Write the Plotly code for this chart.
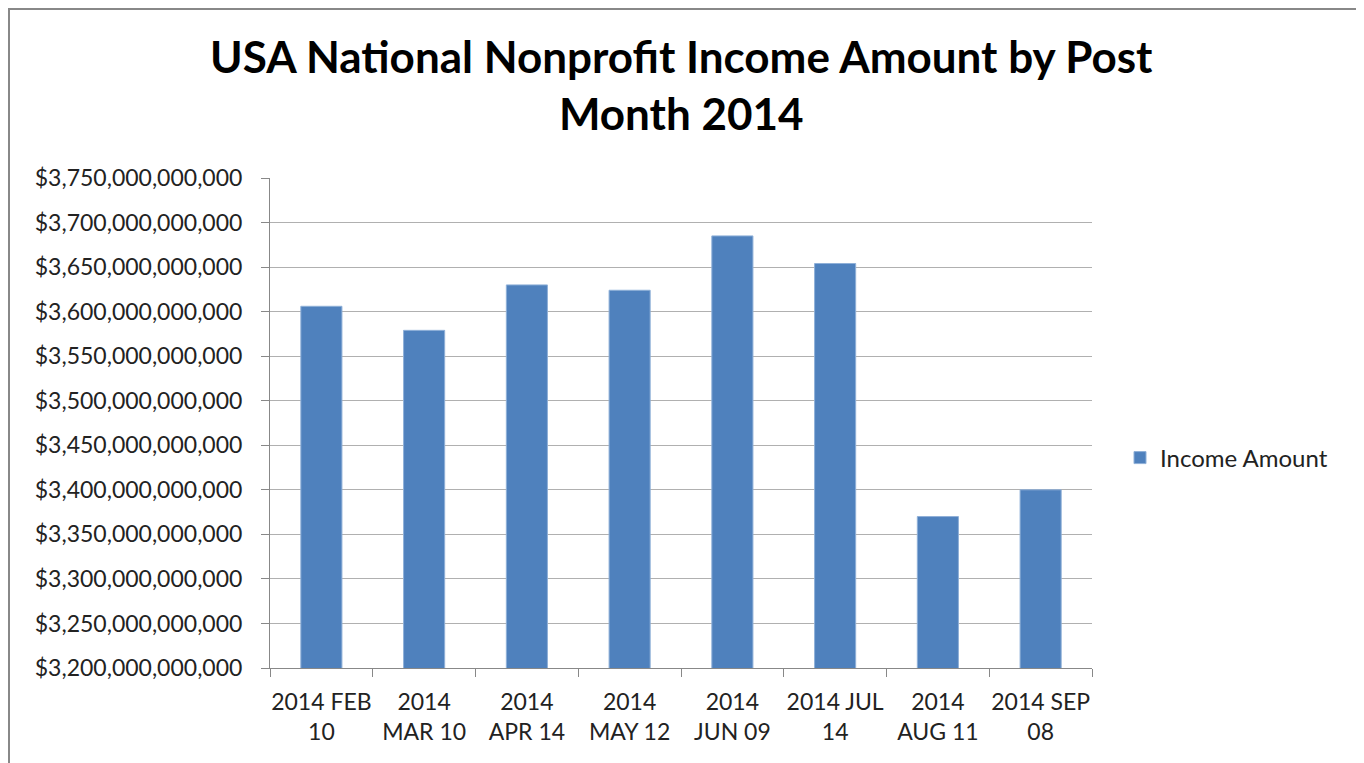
import plotly.graph_objects as go

categories = ["2014 FEB<br>10", "2014<br>MAR 10", "2014<br>APR 14", "2014<br>MAY 12",
              "2014<br>JUN 09", "2014 JUL<br>14", "2014<br>AUG 11", "2014 SEP<br>08"]
income_amount = [3606e9, 3579e9, 3630e9, 3624e9, 3685e9, 3654e9, 3370e9, 3400e9]
series_name = "Income Amount"
title_text = "USA National Nonprofit Income Amount by Post<br>Month 2014"

FONT = "Lato, 'Open Sans', sans-serif"

# page has an 8px body margin, so the figure is 8px smaller than the window
W, H = 1356, 755
L, R, T, B = 262, 272, 170, 95
PW = W - L - R
PH = H - T - B

fig = go.Figure()
fig.add_trace(go.Bar(
    x=categories, y=income_amount, name=series_name,
    marker=dict(color="#4F81BD", line=dict(color="#8fb0d8", width=1)),
    showlegend=True,
))

fig.update_layout(
    width=W, height=H,
    margin=dict(l=L, r=R, t=T, b=B, autoexpand=False),
    paper_bgcolor="white", plot_bgcolor="white",
    bargap=0.6,
    font=dict(family=FONT, size=23, color="#222"),
    showlegend=True,
    legend=dict(x=(1112 - L) / PW, y=(H - B - 450) / PH, xanchor="left", yanchor="middle",
                font=dict(size=24, color="#222"), itemwidth=30),
    xaxis=dict(type="category", showline=True, linecolor="#888", linewidth=1,
               ticks="outside", tickson="boundaries", ticklen=8, tickcolor="#888",
               showgrid=False, tickfont=dict(size=23), tickangle=0,
               ticklabelstandoff=13),
    yaxis=dict(range=[3.2e12, 3.75e12], dtick=50e9, tickformat="$,.0f",
               showline=True, linecolor="#888", linewidth=1,
               ticks="outside", ticklen=8, tickcolor="#888",
               showgrid=True, gridcolor="#b0b0b0", gridwidth=1,
               tickfont=dict(size=23), zeroline=False, ticklabelstandoff=14),
)

fig.add_annotation(text="<b>" + title_text + "</b>", xref="paper", yref="paper",
                   x=0.5, xanchor="center", y=(H - B - 20) / PH, yanchor="top",
                   showarrow=False, font=dict(family=FONT, size=44, color="black"))

# outer chart border
fig.add_shape(type="rect", xref="paper", yref="paper",
              x0=(1 - L) / PW, x1=(1349 - L) / PW,
              y0=(H - B - 800) / PH, y1=(H - B - 1) / PH,
              line=dict(color="#888", width=2), fillcolor="rgba(0,0,0,0)", layer="below")

fig.write_html("out.html")
